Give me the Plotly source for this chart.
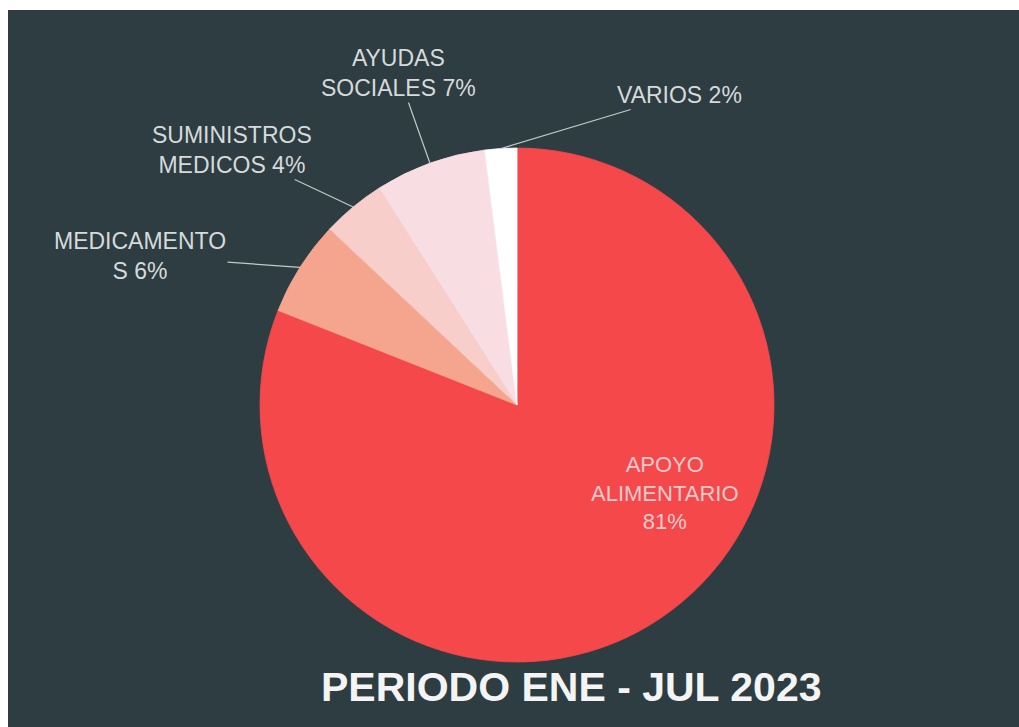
import math
import plotly.graph_objects as go

# ---- data ----
categories = ["APOYO ALIMENTARIO", "MEDICAMENTOS", "SUMINISTROS MEDICOS", "AYUDAS SOCIALES", "VARIOS"]
shares = [81, 6, 4, 7, 2]
label_texts = ["APOYO<br>ALIMENTARIO<br>81%", "MEDICAMENTO<br>S 6%", "SUMINISTROS<br>MEDICOS 4%",
               "AYUDAS<br>SOCIALES 7%", "VARIOS 2%"]
title_text = "PERIODO ENE - JUL 2023"

# ---- styles / layout ----
W, H = 1019, 727
colors = ["#F5484B", "#F5A48E", "#F7CEC9", "#F8DDE3", "#FFFFFF"]
bg = "#2D3D41"
cx, cy, R = 517, 405, 257          # pie centre / radius in pixels
label_pos = [(665, 493), (140, 256), (232, 150), (398, 73), (679, 95)]
inside = [True, False, False, False, False]

fig = go.Figure()
fig.add_trace(go.Pie(
    labels=categories, values=shares, sort=False, direction="clockwise", rotation=0,
    marker=dict(colors=colors, line=dict(width=0.8, color=colors)), textinfo="none",
    hoverinfo="label+percent",
    domain=dict(x=[(cx - R) / W, (cx + R) / W], y=[1 - (cy + R) / H, 1 - (cy - R) / H]),
    showlegend=False,
))

total = sum(shares)
cum = 0
annotations = []
for v, txt, (lx, ly), ins in zip(shares, label_texts, label_pos, inside):
    mid = (cum + v / 2) / total * 2 * math.pi
    cum += v
    tx = cx + R * math.sin(mid)
    ty = cy - R * math.cos(mid)
    if ins:
        annotations.append(dict(x=lx / W, y=1 - ly / H, xref="paper", yref="paper", text=txt,
                                xanchor="center", yanchor="middle", showarrow=False,
                                font=dict(family="Liberation Sans, Arial", size=22, color="#EFCBCB")))
    else:
        annotations.append(dict(x=tx / W, y=1 - ty / H, xref="paper", yref="paper", text=txt,
                                showarrow=True, arrowhead=0, arrowwidth=1.2, arrowcolor="#C3C9CB",
                                ax=lx - tx, ay=ly - ty, axref="pixel", ayref="pixel", standoff=0,
                                font=dict(family="Liberation Sans, Arial", size=23, color="#D6DADB")))

annotations.append(dict(x=571 / W, y=1 - 687 / H, xref="paper", yref="paper", text=title_text,
                        xanchor="center", yanchor="middle", showarrow=False,
                        font=dict(family="Liberation Sans, Arial", size=41,
                                  color="#F4F4F4", weight="bold")))

fig.update_layout(
    width=W, height=H, margin=dict(l=0, r=0, t=0, b=0),
    paper_bgcolor="#FFFFFF", plot_bgcolor="#FFFFFF",
    shapes=[dict(type="rect", xref="paper", yref="paper", x0=8 / W, x1=1, y0=0, y1=1 - 10 / H,
                 fillcolor=bg, line=dict(width=0), layer="below")],
    annotations=annotations,
)
fig.write_html("out.html", config={"displayModeBar": False},
               post_script="document.body.style.margin='0px';document.body.style.overflow='hidden';")
